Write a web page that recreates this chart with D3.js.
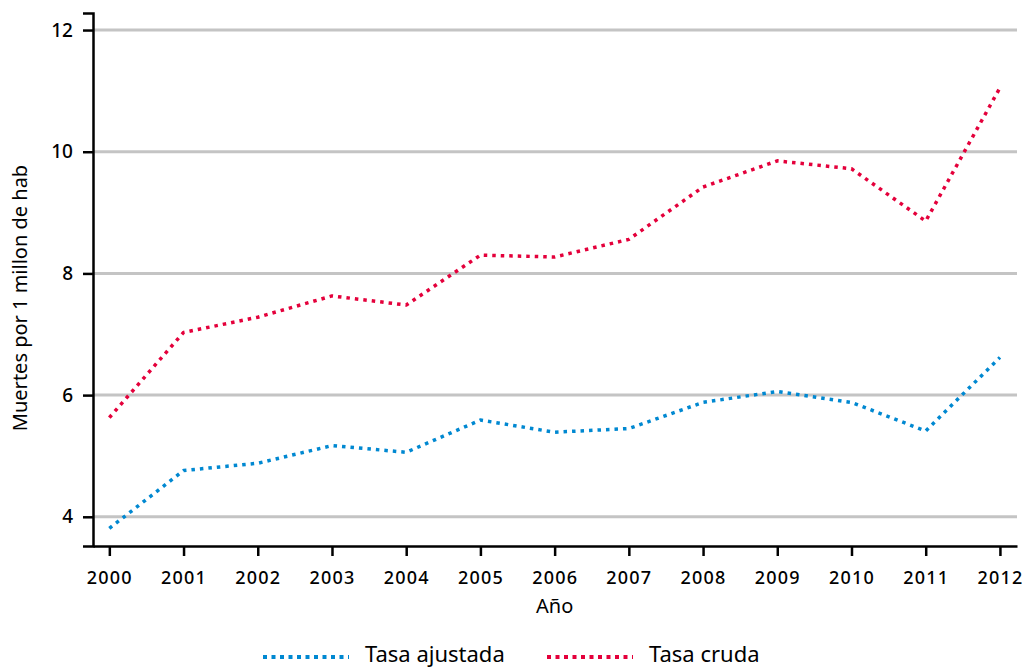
<!DOCTYPE html>
<html>
<head>
<meta charset="utf-8">
<script src="https://cdn.jsdelivr.net/npm/d3@7"></script>
<style>
  body { margin: 0; background: #fff; }
  text { font-family: "Noto Sans", "Open Sans", "DejaVu Sans", sans-serif; fill: #000; }
</style>
</head>
<body>
<div id="chart"></div>
<script>
// data
var years = [2000, 2001, 2002, 2003, 2004, 2005, 2006, 2007, 2008, 2009, 2010, 2011, 2012];
var tasaCruda = [5.63, 7.03, 7.28, 7.63, 7.48, 8.30, 8.27, 8.56, 9.42, 9.85, 9.72, 8.86, 11.05];
var tasaAjustada = [3.81, 4.76, 4.88, 5.17, 5.06, 5.59, 5.39, 5.45, 5.88, 6.06, 5.88, 5.41, 6.62];
var yTicks = [4, 6, 8, 10, 12];
var seriesNames = ["Tasa ajustada", "Tasa cruda"];
var seriesColors = ["#0088d1", "#e4003b"];

var width = 1022, height = 670;
var margin = {top: 13, right: 5, bottom: 124, left: 93};

var svg = d3.select("#chart")
  .append("svg")
    .attr("width", width)
    .attr("height", height);

var x = d3.scaleLinear()
  .domain([1999.78, 2012.23])
  .range([margin.left, width - margin.right]);

var y = d3.scaleLinear()
  .domain([3.52, 12.28])
  .range([height - margin.bottom, margin.top]);

// gridlines
svg.append("g")
  .selectAll("line")
  .data(yTicks)
  .enter()
  .append("line")
    .attr("x1", margin.left)
    .attr("x2", width - margin.right)
    .attr("y1", function (d) { return y(d); })
    .attr("y2", function (d) { return y(d); })
    .attr("stroke", "#c4c4c4")
    .attr("stroke-width", 3);

// y axis
var yAxis = svg.append("g")
  .attr("transform", "translate(" + margin.left + ",0)")
  .call(d3.axisLeft(y).tickValues(yTicks).tickSize(10).tickPadding(10).tickFormat(d3.format("d")));
yAxis.select(".domain").attr("stroke", "#000").attr("stroke-width", 2.5);
yAxis.selectAll(".tick line").attr("stroke", "#000").attr("stroke-width", 2.5);
yAxis.selectAll(".tick text").style("font-size", "19px").style("font-weight", "500");

// x axis
var xAxis = svg.append("g")
  .attr("transform", "translate(0," + (height - margin.bottom) + ")")
  .call(d3.axisBottom(x).tickValues(years).tickSize(10).tickSizeOuter(0).tickPadding(15).tickFormat(d3.format("d")));
xAxis.select(".domain").attr("stroke", "#000").attr("stroke-width", 2.5);
xAxis.selectAll(".tick line").attr("stroke", "#000").attr("stroke-width", 2.5);
xAxis.selectAll(".tick text").style("font-size", "18px").style("font-weight", "500").style("letter-spacing", "1.2px");

// axis titles
svg.append("text")
  .attr("x", x(2006))
  .attr("y", 613)
  .style("text-anchor", "middle")
  .style("font-size", "20px")
  .text("Año");

svg.append("text")
  .attr("transform", "rotate(-90)")
  .attr("x", -298)
  .attr("y", 27)
  .style("text-anchor", "middle")
  .style("font-size", "20px")
  .text("Muertes por 1 millon de hab");

// lines
var line = d3.line()
  .x(function (d) { return x(d[0]); })
  .y(function (d) { return y(d[1]); });

[tasaAjustada, tasaCruda].forEach(function (vals, i) {
  svg.append("path")
    .datum(years.map(function (yr, j) { return [yr, vals[j]]; }))
    .attr("d", line)
    .attr("fill", "none")
    .attr("stroke", seriesColors[i])
    .attr("stroke-width", 3.5)
    .attr("stroke-linejoin", "round")
    .attr("stroke-dasharray", "3.5,5");
});

// legend
var legendX = [263, 547];
seriesNames.forEach(function (name, i) {
  var g = svg.append("g").attr("transform", "translate(" + legendX[i] + ",657)");
  g.append("line")
    .attr("x1", 0).attr("x2", 86)
    .attr("y1", 0).attr("y2", 0)
    .attr("stroke", seriesColors[i])
    .attr("stroke-width", 4)
    .attr("stroke-dasharray", "4,4.5");
  g.append("text")
    .attr("x", 102)
    .attr("y", 5)
    .style("font-size", "22px")
    .text(name);
});
</script>
</body>
</html>
